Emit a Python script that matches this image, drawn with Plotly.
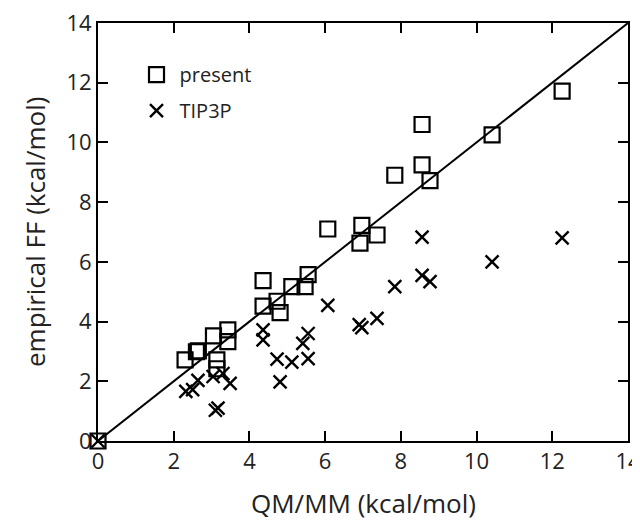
import plotly.graph_objects as go

present_x = [0.0, 2.3, 2.6, 2.65, 3.05, 3.14, 3.14, 3.43, 3.43, 4.36, 4.36, 4.73, 4.81,
             5.12, 5.47, 5.55, 6.07, 6.92, 6.97, 7.37, 7.84, 8.56, 8.56, 8.77, 10.41, 12.26]
present_y = [0.0, 2.72, 2.99, 3.02, 3.52, 2.72, 2.42, 3.72, 3.33, 5.37, 4.52, 4.68, 4.3,
             5.17, 5.17, 5.57, 7.1, 6.63, 7.22, 6.9, 8.9, 10.6, 9.25, 8.72, 10.25, 11.72]

tip3p_x = [0.0, 2.32, 2.5, 2.64, 3.04, 3.3, 3.49, 3.1, 3.17, 4.36, 4.36, 4.73, 4.81,
           5.12, 5.41, 5.55, 5.55, 6.07, 6.9, 6.97, 7.37, 7.84, 8.56, 8.56, 8.77, 10.41, 12.26]
tip3p_y = [0.0, 1.66, 1.72, 2.03, 2.16, 2.26, 1.93, 1.03, 1.1, 3.72, 3.39, 2.74, 1.98,
           2.64, 3.27, 3.6, 2.76, 4.54, 3.9, 3.8, 4.11, 5.17, 6.83, 5.55, 5.34, 6.0, 6.8]

line_x = [0, 14]
line_y = [0, 14]

ticks = [0, 2, 4, 6, 8, 10, 12, 14]

x_title = "QM/MM (kcal/mol)"
y_title = "empirical FF (kcal/mol)"

fig = go.Figure()
fig.add_trace(go.Scatter(x=line_x, y=line_y, mode="lines",
                         line=dict(color="black", width=2), showlegend=False,
                         hoverinfo="skip"))
fig.add_trace(go.Scatter(x=present_x, y=present_y, mode="markers", name="present",
                         cliponaxis=False, legendgroup="a",
                         marker=dict(symbol="square-open", size=15, color="black",
                                     line=dict(width=2.2, color="black"))))
fig.add_trace(go.Scatter(x=tip3p_x, y=tip3p_y, mode="markers", name="TIP3P",
                         cliponaxis=False, legendgroup="b",
                         marker=dict(symbol="x-thin-open", size=13, color="black",
                                     line=dict(width=2.4, color="black"))))

axis_common = dict(range=[0, 14], tickvals=ticks, ticks="inside", ticklen=10, tickwidth=2,
                   tickcolor="black", showline=True, linecolor="black", linewidth=2,
                   mirror="ticks", showgrid=False, zeroline=False, automargin=False,
                   ticklabeloverflow="allow",
                   tickfont=dict(size=22, color="#222"))

fig.update_layout(
    width=640, height=520,
    margin=dict(l=90, r=20, t=15, b=87),
    paper_bgcolor="white", plot_bgcolor="white",
    font=dict(family="Open Sans, Noto Sans, sans-serif", color="#222"),
    xaxis=dict(**axis_common),
    yaxis=dict(**axis_common),
    legend=dict(x=0.067, y=0.923, xanchor="left", yanchor="top", bgcolor="rgba(0,0,0,0)",
                font=dict(size=20, color="#222"), itemwidth=36, tracegroupgap=7),
    annotations=[
        dict(text=x_title, xref="paper", yref="paper", x=0.5, y=0, xanchor="center",
             yanchor="middle", yshift=-62, showarrow=False, font=dict(size=26, color="#222")),
        dict(text=y_title, xref="paper", yref="paper", x=0, y=0.5, xanchor="center",
             yanchor="middle", xshift=-63, textangle=-90, showarrow=False,
             font=dict(size=26, color="#222")),
    ],
)

fig.write_html("out.html")
